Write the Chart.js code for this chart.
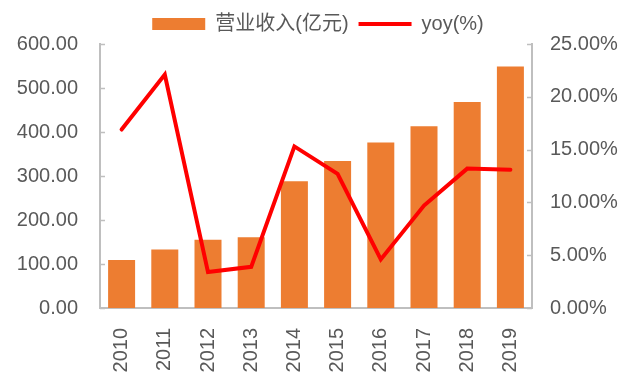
<!DOCTYPE html>
<html>
<head>
<meta charset="utf-8">
<script src="https://cdn.jsdelivr.net/npm/chart.js@4"></script>
<style>
  html, body { margin: 0; padding: 0; background: #fff; }
  #wrap { width: 636px; height: 381px; }
</style>
</head>
<body>
<div id="wrap"><canvas id="c" width="636" height="381"></canvas></div>
<script>
// ── Data ─────────────────────────────────
const years = ['2010', '2011', '2012', '2013', '2014', '2015', '2016', '2017', '2018', '2019'];
const revenue = [109, 133, 155, 161, 288, 334, 376, 413, 468, 549];   // 营业收入(亿元)
const yoy = [16.9, 22.1, 3.4, 3.9, 15.3, 12.7, 4.6, 9.7, 13.2, 13.1]; // yoy(%)

const FONT = '"Liberation Sans", Arial, "Noto Sans CJK SC", sans-serif';
const TEXT = '#595959';
const AXIS = '#bfbfbf';

// short inward ticks on both value axes
const inwardTicks = {
  id: 'inwardTicks',
  afterDraw(chart) {
    const ctx = chart.ctx;
    ctx.save();
    ctx.strokeStyle = AXIS;
    ctx.lineWidth = 1.5;
    ['y', 'y1'].forEach(id => {
      const s = chart.scales[id];
      const x = id === 'y' ? s.right : s.left;
      const dir = id === 'y' ? 1 : -1;
      s.ticks.forEach(t => {
        const py = Math.round(s.getPixelForValue(t.value)) + 0.5;
        ctx.beginPath();
        ctx.moveTo(x, py);
        ctx.lineTo(x + dir * 5, py);
        ctx.stroke();
      });
    });
    ctx.restore();
  }
};

new Chart(document.getElementById('c'), {
  data: {
    labels: years,
    datasets: [
      { type: 'line', label: 'yoy(%)', data: yoy, yAxisID: 'y1', borderColor: '#ff0000', backgroundColor: '#ff0000',
        borderWidth: 4, pointRadius: 0, tension: 0, borderCapStyle: 'round', order: 0 },
      { type: 'bar', label: '营业收入(亿元)', data: revenue, yAxisID: 'y', backgroundColor: '#ed7d31',
        categoryPercentage: 1, barPercentage: 0.625, order: 1 }
    ]
  },
  options: {
    responsive: false, animation: false,
    layout: { padding: { top: 4, left: 0, right: 0, bottom: 0 } },
    plugins: {
      legend: {
        position: 'top',
        labels: {
          font: { size: 20, family: FONT }, color: TEXT, padding: 10,
          usePointStyle: true, pointStyleWidth: 53, boxHeight: 12,
          generateLabels(chart) {
            const ds = chart.data.datasets;
            return [
              { text: ds[1].label, fillStyle: '#ed7d31', strokeStyle: '#ed7d31', lineWidth: 0, pointStyle: 'rect', datasetIndex: 1, fontColor: TEXT },
              { text: ds[0].label, fillStyle: '#ff0000', strokeStyle: '#ff0000', lineWidth: 4, pointStyle: 'line', datasetIndex: 0, fontColor: TEXT }
            ];
          }
        }
      },
      tooltip: { enabled: false }
    },
    scales: {
      x: {
        offset: true,
        grid: { display: false },
        border: { color: AXIS, width: 2 },
        ticks: { font: { size: 20, family: FONT }, color: TEXT, minRotation: 90, maxRotation: 90, padding: 12 },
        afterFit: s => { s.height = 73; }
      },
      y: {
        position: 'left', min: 0, max: 600,
        grid: { display: false, drawTicks: false },
        border: { color: AXIS, width: 2 },
        ticks: { stepSize: 100, font: { size: 20, family: FONT }, color: TEXT, padding: 22, callback: v => v.toFixed(2) },
        afterFit: s => { s.width = 100; }
      },
      y1: {
        position: 'right', min: 0, max: 25,
        grid: { display: false, drawTicks: false },
        border: { color: AXIS, width: 2 },
        ticks: { stepSize: 5, font: { size: 20, family: FONT }, color: TEXT, padding: 18, callback: v => v.toFixed(2) + '%' },
        afterFit: s => { s.width = 104; }
      }
    }
  },
  plugins: [inwardTicks]
});
</script>
</body>
</html>
